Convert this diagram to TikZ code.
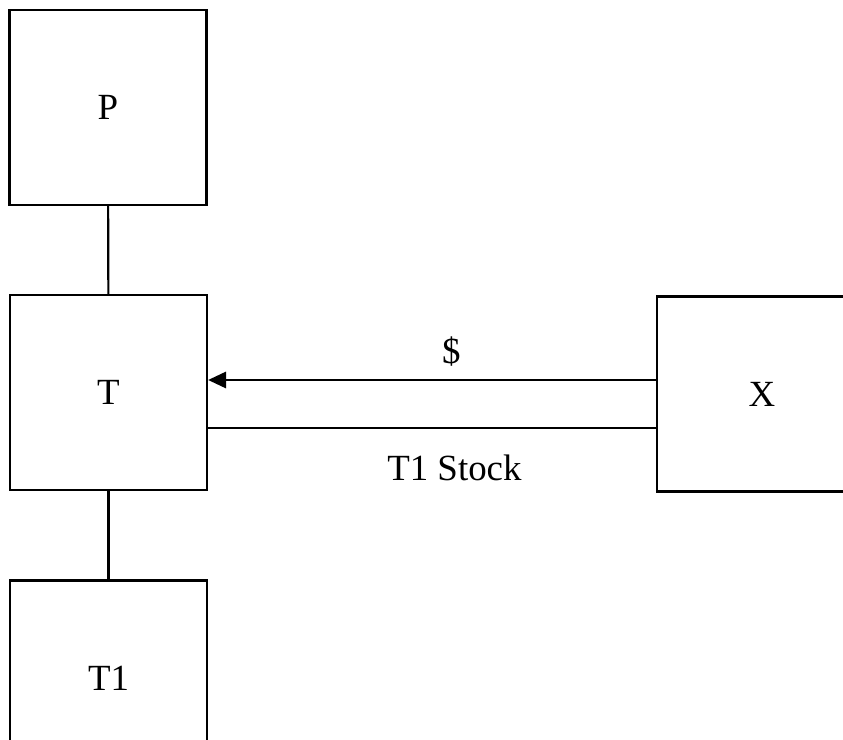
\documentclass[tikz,border=0pt]{standalone}
\usepackage{fontspec}
\setmainfont{Liberation Serif}
\usetikzlibrary{arrows.meta,positioning}

\begin{document}
\begin{tikzpicture}[x=0.02cm, y=-0.02cm,
		entity/.style={draw, line width=1.2pt, minimum width=3.94cm, minimum height=3.9cm, font=\fontsize{21}{25}\selectfont},
		link/.style={line width=1.2pt},
		flow/.style={line width=1.7pt},
		lbl/.style={font=\fontsize{21}{25}\selectfont}]
		\useasboundingbox (0,0) rectangle (843,740);
		\clip (0,0) rectangle (843,740);
		\node[entity] (parent) at (108,107.5) {P};
		\node[entity] (target) at (108.5,392.5) {T};
		\node[entity] (sub) at (108.5,678) {T1};
		\node[entity, minimum width=4.2cm] (buyer) at (762,394) {X};
		\coordinate (cash) at (0,380);
		\coordinate (stock) at (0,428);
		\draw[link] (parent) -- (target);
		\draw[link] (target) -- (sub);
		\draw[flow, -{Triangle[length=0.36cm,width=0.32cm]}] (buyer.west |- cash) -- (target.east |- cash) node[lbl, pos=0.457, above=0.12cm]{\$};
		\draw[flow] (target.east |- stock) -- (buyer.west |- stock) node[lbl, pos=0.55, below=0.4cm]{T1 Stock};
	\end{tikzpicture}
\end{document}
